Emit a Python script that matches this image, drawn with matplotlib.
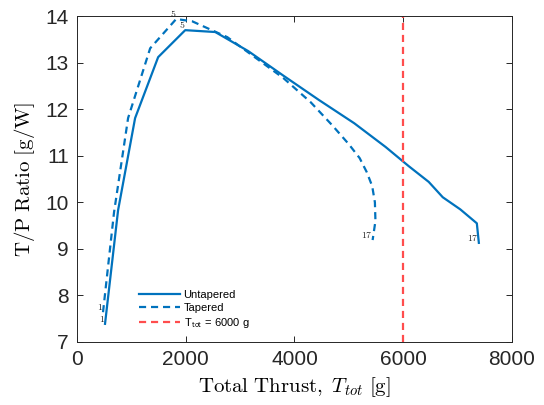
import matplotlib
matplotlib.use("Agg")
import matplotlib.pyplot as plt

plt.rcParams['font.family'] = ['Liberation Sans', 'DejaVu Sans']
plt.rcParams['mathtext.fontset'] = 'cm'

# Untapered propeller sweep (17 operating points)
thrust_untapered = [516, 756, 1069, 1493, 1991, 2544, 3150, 3800, 4450, 5100,
                    5677, 6100, 6470, 6728, 7050, 7355, 7392]
ratio_untapered = [7.39, 9.83, 11.81, 13.12, 13.70, 13.66, 13.25, 12.72, 12.20,
                   11.70, 11.19, 10.78, 10.44, 10.11, 9.85, 9.55, 9.13]

# Tapered propeller sweep (17 operating points)
thrust_tapered = [479, 682, 940, 1346, 1825, 2120, 2765, 3797, 4300, 4700,
                  5000, 5200, 5330, 5430, 5480, 5490, 5438]
ratio_tapered = [7.64, 9.79, 11.81, 13.31, 13.94, 13.89, 13.55, 12.67, 12.15,
                 11.65, 11.25, 10.95, 10.65, 10.35, 10.00, 9.60, 9.19]

target_thrust = 6000
labelled_points = [1, 5, 17]

blue = '#0072BD'
red = '#FF4D4D'

fig = plt.figure(figsize=(5.44, 4.05), dpi=100)
ax = fig.add_axes([0.1415, 0.1556, 0.7995, 0.8044])

ax.plot(thrust_untapered, ratio_untapered, '-', color=blue, lw=1.6,
        label='Untapered')
ax.plot(thrust_tapered, ratio_tapered, '--', color=blue, lw=1.6,
        dashes=(3.2, 2.2), label='Tapered')
ax.axvline(target_thrust, color=red, lw=1.6, ls='--', dashes=(3.2, 2.2),
           label=r'T$_{\mathsf{tot}}$ = 6000 g')

for xs, ys in ((thrust_untapered, ratio_untapered),
               (thrust_tapered, ratio_tapered)):
    for n in labelled_points:
        ax.text(xs[n - 1], ys[n - 1], r'$\mathrm{%d}$' % n, fontsize=7,
                ha='right', va='bottom', color='#222222')

ax.set_xlim(0, 8000)
ax.set_ylim(7, 14)
ax.set_xticks([0, 2000, 4000, 6000, 8000])
ax.set_yticks(range(7, 15))
ax.tick_params(direction='in', top=True, right=True, labelsize=15,
               length=4, width=0.7, colors='#262626', pad=6)
for s in ax.spines.values():
    s.set_color('#262626')
    s.set_linewidth(0.7)

ax.set_xlabel(r'$\mathrm{Total\ Thrust,}\ T_{tot}\ \mathrm{[g]}$', fontsize=15,
              labelpad=4)
ax.set_ylabel(r'$\mathrm{T/P\ Ratio\ [g/W]}$', fontsize=15, labelpad=6)

ax.legend(loc='lower left', bbox_to_anchor=(0.12, 0.005), frameon=False,
          fontsize=8, handlelength=3.7, handletextpad=0.3, labelspacing=0.3)

fig.savefig('out.png', dpi=100)
